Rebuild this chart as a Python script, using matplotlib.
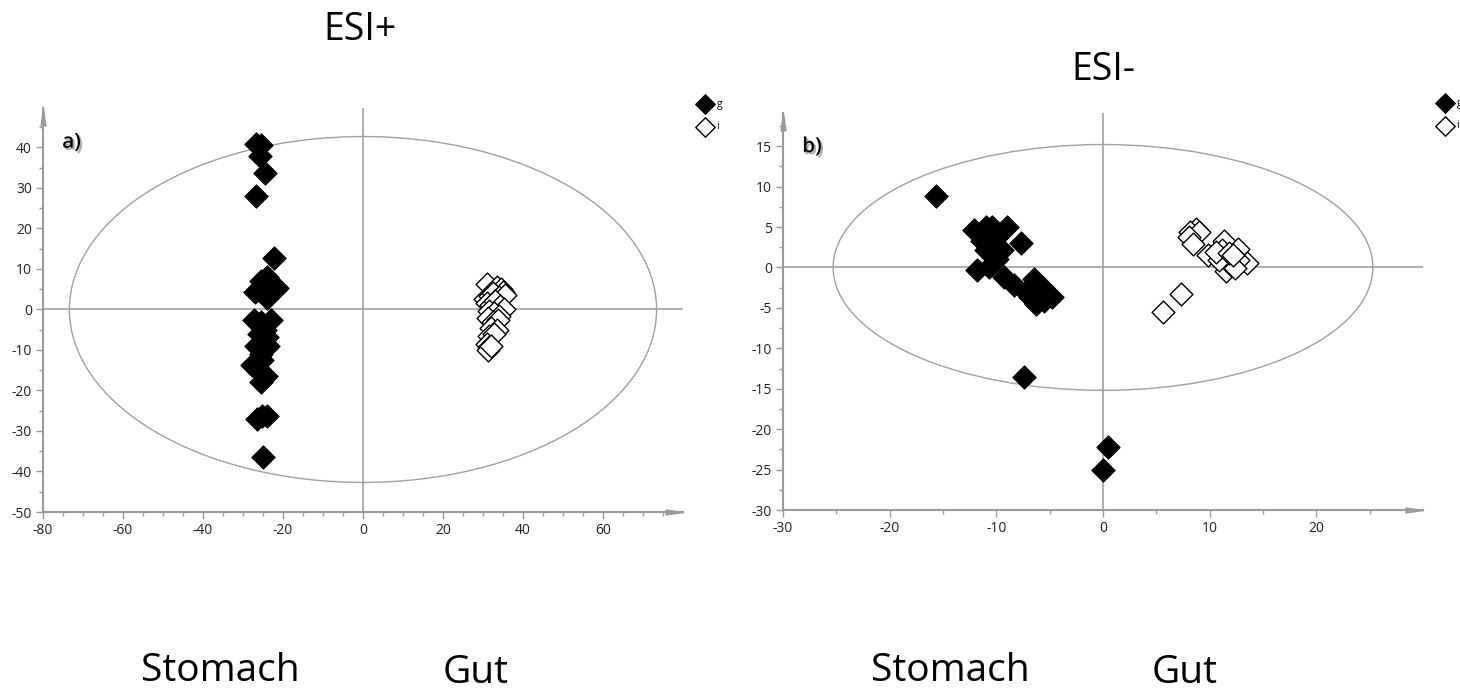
import numpy as np
import matplotlib
matplotlib.use("Agg")
import matplotlib.pyplot as plt
import matplotlib.patheffects as pe
from matplotlib.patches import Ellipse

plt.rcParams["font.family"] = ["Open Sans", "DejaVu Sans"]
plt.rcParams["axes.unicode_minus"] = False

# ESI+ scores (panel a)
g_a_x = [-26.8, -25.6, -25.8, -24.6, -26.8, -22.3, -24.0, -25.5, -21.6, -23.5, -27.0, -24.0, -25.0,
         -27.2, -23.0, -25.5, -24.5, -26.0, -24.0, -26.8, -25.0, -23.8, -25.5, -27.7, -25.2, -26.2,
         -24.2, -25.5, -25.2, -26.4, -24.0, -25.1]
g_a_y = [40.8, 40.6, 37.8, 33.6, 27.9, 12.6, 8.0, 7.0, 5.4, 5.0, 4.2, 2.8, 4.5,
         -2.5, -2.5, -3.0, -5.0, -6.0, -6.8, -9.0, -9.5, -9.0, -11.0, -13.6, -12.4, -15.0,
         -16.4, -17.8, -26.2, -27.0, -26.4, -36.5]
i_a_x = [31.0, 33.5, 34.5, 35.0, 30.5, 31.8, 32.5, 33.0, 34.0, 35.5, 31.0, 32.0, 33.0, 34.2, 35.2,
         31.5, 32.8, 34.0, 31.2, 32.5, 33.8, 32.0, 33.5, 31.5, 32.8, 31.0, 31.5, 31.2, 32.0]
i_a_y = [6.3, 5.5, 5.0, 4.3, 2.7, 3.3, 4.0, 2.2, 3.0, 3.5, 1.5, 1.0, 2.0, 0.8, 0.0,
         -0.3, -0.8, -1.5, -2.2, -3.0, -2.5, -4.5, -5.0, -6.5, -6.0, -8.5, -9.2, -10.0, -9.0]

# ESI- scores (panel b)
g_b_x = [-15.7, -12.1, -11.0, -10.4, -9.0, -7.7, -11.3, -10.0, -11.0, -9.5, -11.8, -10.7, -9.9,
         -9.3, -8.3, -6.5, -5.7, -5.2, -4.8, -6.8, -6.3, -5.5, -7.2, -7.4, 0.5, 0.0]
g_b_y = [8.8, 4.6, 5.0, 5.0, 5.0, 3.0, 3.3, 3.7, 2.1, 2.1, -0.3, 0.0, 1.1,
         -1.2, -2.2, -1.4, -2.4, -3.3, -3.7, -3.7, -4.5, -4.1, -3.1, -13.6, -22.2, -25.1]
i_b_x = [8.7, 8.2, 9.0, 8.1, 8.4, 9.8, 11.3, 11.2, 11.6, 12.7, 13.5, 12.7, 11.5, 12.0, 12.4,
         10.9, 10.6, 7.3, 5.6, 11.8, 12.2]
i_b_y = [4.8, 4.4, 4.4, 3.75, 2.9, 1.5, 3.3, 2.1, 1.3, 2.3, 0.5, 0.9, -0.4, 0.25, -0.1,
         0.9, 1.9, -3.3, -5.5, 1.8, 1.5]

# Hotelling T2 ellipse half-axes
ell_a = (73.4, 42.7)
ell_b = (25.3, 15.2)

W, H = 1460, 692
GRAY = "#9a9a9a"
fig = plt.figure(figsize=(W / 100, H / 100), dpi=100)


def px_axes(l, r, t, b):
    return fig.add_axes([l / W, 1 - b / H, (r - l) / W, (b - t) / H])


def style(ax, xlim, ylim, xmaj, xmin, ymaj, ymin, ell, label, lab_x):
    ax.set_xlim(*xlim)
    ax.set_ylim(*ylim)
    for s in ["top", "right"]:
        ax.spines[s].set_visible(False)
    for s in ["left", "bottom"]:
        ax.spines[s].set_color(GRAY)
        ax.spines[s].set_linewidth(1.5)
    ax.set_xticks(xmaj)
    ax.set_xticks(xmin, minor=True)
    ax.set_yticks(ymaj)
    ax.set_yticks(ymin, minor=True)
    ax.tick_params(which="major", length=5, width=1, color=GRAY, labelsize=10,
                   labelcolor="#222222", pad=3)
    ax.tick_params(which="minor", length=3, width=1, color=GRAY)
    ax.axhline(0, color="#a8a8a8", lw=1.3, zorder=1)
    ax.axvline(0, color="#a8a8a8", lw=1.3, zorder=1)
    ax.add_patch(Ellipse((0, 0), 2 * ell[0], 2 * ell[1], fill=False,
                         edgecolor="#a0a0a0", lw=1.0, zorder=1))
    # arrow heads at the axis ends
    bb = ax.get_position()
    wpx, hpx = bb.width * W, bb.height * H
    ax.plot(1 - 9 / wpx, 0, marker=[(-1, -0.28), (1, 0), (-1, 0.28)], ms=13,
            color=GRAY, mec=GRAY, transform=ax.transAxes, clip_on=False)
    ax.plot(0, 1 - 9 / hpx, marker=[(-0.28, -1), (0, 1), (0.28, -1)], ms=13,
            color=GRAY, mec=GRAY, transform=ax.transAxes, clip_on=False)
    ax.text(lab_x, 0.915, label, transform=ax.transAxes,
            fontsize=15, fontweight="semibold", ha="left", va="center",
            path_effects=[pe.withSimplePatchShadow(offset=(1.5, -1.5),
                                                   shadow_rgbFace="#777777", alpha=0.6)])


def draw(ax, gx, gy, ix, iy, leg_x, leg_y):
    ax.scatter(gx, gy, marker="D", s=140, facecolor="black", edgecolor="black",
               linewidths=0.8, zorder=3, label="g")
    ax.scatter(ix, iy, marker="D", s=135, facecolor="white", edgecolor="black",
               linewidths=1.0, zorder=3, label="i")
    ax.legend(loc="upper left", bbox_to_anchor=(leg_x / W, 1 - leg_y / H),
              bbox_transform=fig.transFigure, frameon=False, fontsize=7.5,
              handlelength=1.0, handletextpad=0.6, labelspacing=1.1,
              borderpad=0, borderaxespad=0, markerscale=0.85, scatterpoints=1)


ax_a = px_axes(43, 683, 108, 512)
style(ax_a, (-80, 80), (-50, 49.75), np.arange(-80, 61, 20), np.arange(-80, 76, 5),
      np.arange(-50, 41, 10), np.arange(-50, 46, 5), ell_a, "a)", 0.03)
draw(ax_a, g_a_x, g_a_y, i_a_x, i_a_y, 700, 99)

ax_b = px_axes(783, 1423, 113, 510)
style(ax_b, (-30, 30), (-30, 19.1), np.arange(-30, 21, 10), np.arange(-30, 26, 5),
      np.arange(-30, 16, 5), np.arange(-30, 18, 2.5), ell_b, "b)", 0.03)
draw(ax_b, g_b_x, g_b_y, i_b_x, i_b_y, 1440, 98)

fig.text(360 / W, 1 - 30 / H, "ESI+", ha="center", va="center", fontsize=27)
fig.text(1103 / W, 1 - 70 / H, "ESI-", ha="center", va="center", fontsize=27)
fig.text(220 / W, 1 - 681 / H, "Stomach", ha="center", va="baseline", fontsize=28)
fig.text(476 / W, 1 - 683 / H, "Gut", ha="center", va="baseline", fontsize=28)
fig.text(950 / W, 1 - 681 / H, "Stomach", ha="center", va="baseline", fontsize=28)
fig.text(1185 / W, 1 - 683 / H, "Gut", ha="center", va="baseline", fontsize=28)

fig.savefig("out.png", dpi=100)
